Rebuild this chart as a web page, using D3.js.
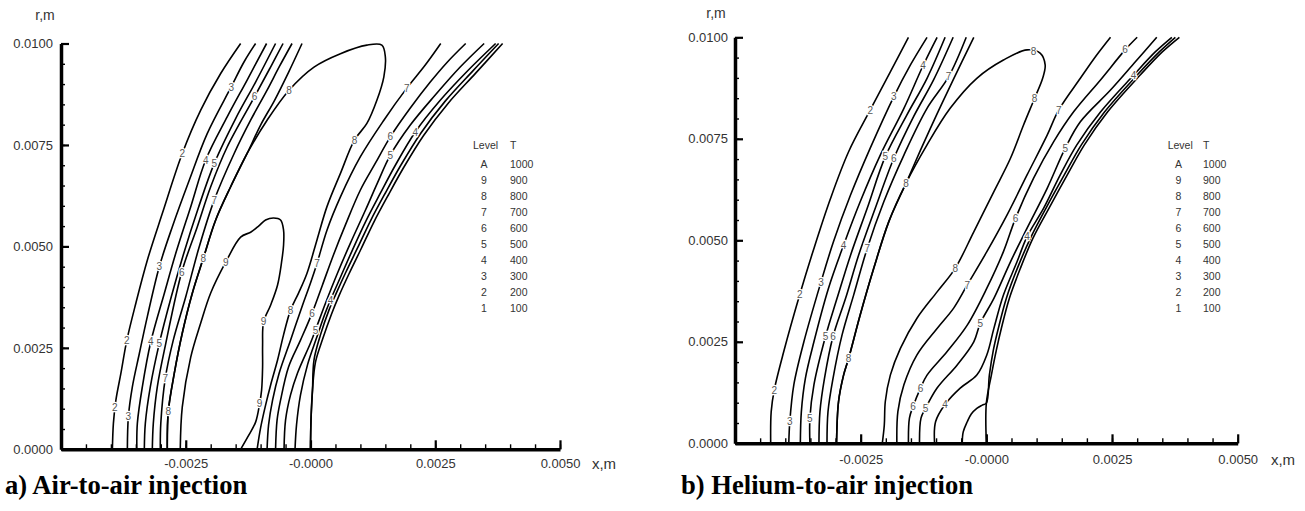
<!DOCTYPE html>
<html><head><meta charset="utf-8">
<script src="https://cdn.jsdelivr.net/npm/d3@7"></script>
<style>body{margin:0;background:#fff}svg{display:block}</style>
</head><body>
<svg id="c" width="1305" height="511"></svg>
<script>
// ---- legend ----
const levelNames = ["A","9","8","7","6","5","4","3","2","1"];
const levelT = [1000,900,800,700,600,500,400,300,200,100];
// ---- axis ticks (metres) ----
const xMajorTicks = [-0.0025, 0, 0.0025, 0.005];
const xTickLabels = ["-0.0025","-0.0000","0.0025","0.0050"];
const yMajorTicks = [0, 0.0025, 0.005, 0.0075, 0.01];
const yTickLabels = ["0.0000","0.0025","0.0050","0.0075","0.0100"];

// ---- contour lines, points [x mm, r mm] ----
// a) Air-to-air
const air_2 = [[-3.97,0],[-3.95,0.64],[-3.90,1.21],[-3.80,1.87],[-3.68,2.69],[-3.50,3.60],[-3.27,4.66],[-2.97,5.81],[-2.57,7.29],[-2.20,8.36],[-1.80,9.26],[-1.40,10.0]];
const air_3 = [[-3.67,0],[-3.65,0.80],[-3.57,1.54],[-3.43,2.36],[-3.27,3.27],[-3.03,4.50],[-2.77,5.48],[-2.43,6.63],[-2.07,7.78],[-1.59,8.93],[-1.33,9.55],[-1.10,10.0]];
const air_4 = [[-3.48,0],[-3.47,0.64],[-3.37,1.54],[-3.20,2.65],[-2.93,3.84],[-2.70,4.83],[-2.40,5.98],[-2.10,7.13],[-1.67,8.19],[-1.27,9.10],[-0.88,10.0]];
const air_5 = [[-3.33,0],[-3.31,0.64],[-3.21,1.54],[-3.03,2.61],[-2.79,3.76],[-2.55,4.79],[-2.25,5.94],[-1.93,7.04],[-1.50,8.15],[-1.10,9.05],[-0.70,10.0]];
const air_6 = [[-3.17,0],[-3.15,0.64],[-3.07,1.54],[-2.90,2.61],[-2.58,4.37],[-2.27,5.48],[-2.00,6.47],[-1.67,7.45],[-1.12,8.69],[-0.80,9.42],[-0.55,10.0]];
const air_7 = [[-3.01,0],[-3.00,0.64],[-2.91,1.75],[-2.75,2.69],[-2.50,3.76],[-2.23,4.99],[-1.93,6.14],[-1.53,7.29],[-1.20,8.11],[-0.87,8.85],[-0.62,9.44],[-0.37,10.0]];
const air_8 = [[-2.87,0],[-2.85,0.93],[-2.73,1.87],[-2.57,2.86],[-2.37,3.84],[-2.15,4.70],[-1.90,5.65],[-1.60,6.47],[-1.27,7.29],[-0.87,8.11],[-0.43,8.85],[0.07,9.42],[0.60,9.75],[1.13,9.96],[1.43,9.96],[1.50,9.67],[1.47,9.18],[1.33,8.60],[1.13,8.03],[0.88,7.62],[0.60,6.80],[0.33,5.98],[0.13,5.16],[-0.07,4.34],[-0.24,3.85],[-0.40,3.43],[-0.54,2.82],[-0.66,2.20],[-0.80,1.58],[-0.90,1.09],[-1.00,0.53],[-1.07,0]];
const air_8b = [[-2.87,0],[-2.85,0.93],[-2.73,1.87],[-2.57,2.86],[-2.37,3.84],[-2.15,4.70],[-1.90,5.65],[-1.60,6.47],[-1.27,7.29],[-1.00,7.99],[-0.72,8.60],[-0.44,9.29],[-0.17,10.0]];
const air_9 = [[-2.61,0],[-2.57,1.04],[-2.40,2.27],[-2.20,3.11],[-2.00,3.85],[-1.70,4.61],[-1.40,5.23],[-1.20,5.35],[-1.04,5.50],[-0.90,5.65],[-0.74,5.70],[-0.60,5.65],[-0.54,5.40],[-0.54,5.03],[-0.58,4.61],[-0.66,4.05],[-0.80,3.55],[-0.94,3.14],[-0.96,2.57],[-0.96,2.03],[-0.98,1.46],[-1.02,1.12],[-1.10,0.67],[-1.26,0.30],[-1.40,0]];
const air_7r = [[-0.87,0],[-0.84,0.60],[-0.76,1.21],[-0.63,1.87],[-0.40,2.69],[-0.16,3.55],[0.00,4.10],[0.13,4.58],[0.33,5.40],[0.60,6.22],[1.00,7.21],[1.47,8.11],[1.93,8.90],[2.30,9.47],[2.61,10.0]];
const air_6r = [[-0.70,0],[-0.67,0.72],[-0.60,1.21],[-0.44,2.03],[-0.20,2.69],[0.03,3.35],[0.24,4.05],[0.46,4.79],[0.70,5.53],[1.00,6.39],[1.30,7.05],[1.60,7.70],[2.00,8.41],[2.40,9.05],[2.74,9.54],[3.11,10.0]];
const air_5r = [[-0.53,0],[-0.50,0.72],[-0.40,1.34],[-0.26,1.88],[0.00,2.62],[0.10,2.94],[0.30,3.60],[0.54,4.34],[0.80,5.08],[1.10,5.89],[1.34,6.56],[1.60,7.25],[2.00,7.99],[2.50,8.73],[3.00,9.42],[3.48,10.0]];
const air_4r = [[-0.31,0],[-0.28,0.60],[-0.20,1.34],[-0.06,2.08],[0.12,2.74],[0.28,3.31],[0.40,3.68],[0.60,4.24],[0.84,4.91],[1.10,5.60],[1.40,6.31],[1.70,7.00],[2.10,7.82],[2.60,8.60],[3.16,9.34],[3.71,10.0]];
const air_3r = [[0.00,0],[0.01,0.72],[0.04,1.46],[0.07,2.20],[0.20,2.82],[0.37,3.43],[0.51,3.83],[0.71,4.37],[0.95,4.98],[1.21,5.65],[1.51,6.34],[1.81,7.00],[2.21,7.79],[2.70,8.58],[3.25,9.32],[3.77,10.0]];
const air_2r = [[0.00,0],[0.01,0.72],[0.04,1.46],[0.10,2.15],[0.25,2.74],[0.42,3.33],[0.57,3.78],[0.77,4.32],[1.01,4.93],[1.27,5.60],[1.57,6.29],[1.87,6.95],[2.27,7.74],[2.76,8.53],[3.31,9.27],[3.85,10.0]];
const airLabels = [
 [-3.92,1.04,"2"],[-3.68,2.69,"2"],[-2.57,7.29,"2"],
 [-3.65,0.80,"3"],[-3.03,4.50,"3"],[-1.59,8.93,"3"],
 [-3.20,2.65,"4"],[-2.10,7.13,"4"],
 [-3.03,2.61,"5"],[-1.93,7.04,"5"],
 [-2.58,4.37,"6"],[-1.12,8.69,"6"],
 [-2.91,1.75,"7"],[-1.93,6.14,"7"],
 [-2.85,0.93,"8"],[-2.15,4.70,"8"],[-0.43,8.85,"8"],[0.88,7.62,"8"],[-0.40,3.43,"8"],
 [-1.70,4.61,"9"],[-0.94,3.14,"9"],[-1.02,1.12,"9"],
 [0.13,4.58,"7"],[1.93,8.90,"7"],
 [0.03,3.35,"6"],[1.60,7.70,"6"],
 [0.10,2.94,"5"],[1.60,7.25,"5"],
 [0.40,3.68,"4"],[2.10,7.82,"4"]
];

// b) Helium-to-air
const he_2 = [[-4.29,0],[-4.28,0.78],[-4.22,1.31],[-4.03,2.26],[-3.71,3.67],[-3.43,4.80],[-3.10,6.03],[-2.74,7.18],[-2.31,8.21],[-1.91,9.15],[-1.55,10.0]];
const he_3 = [[-3.93,0],[-3.91,0.53],[-3.83,1.44],[-3.63,2.50],[-3.29,3.97],[-3.04,4.97],[-2.70,6.12],[-2.31,7.27],[-1.84,8.54],[-1.51,9.32],[-1.18,10.0]];
const he_4 = [[-3.70,0],[-3.68,0.78],[-3.60,1.60],[-3.43,2.50],[-3.14,3.82],[-2.84,4.88],[-2.51,5.95],[-2.11,7.10],[-1.64,8.25],[-1.26,9.30],[-0.98,10.0]];
const he_5 = [[-3.51,0],[-3.51,0.62],[-3.43,1.44],[-3.20,2.63],[-2.97,3.57],[-2.70,4.64],[-2.37,5.79],[-2.01,7.06],[-1.58,8.09],[-1.18,8.99],[-0.82,10.0]];
const he_6 = [[-3.33,0],[-3.31,0.78],[-3.22,1.60],[-3.05,2.63],[-2.80,3.57],[-2.54,4.64],[-2.21,5.79],[-1.84,7.02],[-1.45,8.04],[-1.05,8.95],[-0.66,10.0]];
const he_7 = [[-3.17,0],[-3.15,0.78],[-3.05,1.60],[-2.87,2.67],[-2.64,3.65],[-2.37,4.80],[-2.04,5.95],[-1.64,7.10],[-1.18,8.25],[-0.75,9.03],[-0.40,10.0]];
const he_8 = [[-2.98,0],[-2.94,1.03],[-2.84,1.68],[-2.74,2.09],[-2.51,3.16],[-2.24,4.31],[-1.94,5.46],[-1.60,6.40],[-1.18,7.35],[-0.72,8.25],[-0.19,8.99],[0.34,9.44],[0.81,9.69],[1.07,9.61],[1.17,9.32],[1.12,8.99],[0.96,8.50],[0.74,7.84],[0.48,7.02],[0.15,6.20],[-0.25,5.21],[-0.62,4.31],[-0.98,3.73],[-1.38,3.08],[-1.71,2.34],[-1.91,1.68],[-2.01,1.03],[-2.03,0.45],[-2.07,0]];
const he_8b = [[-2.98,0],[-2.94,1.03],[-2.84,1.68],[-2.74,2.09],[-2.51,3.16],[-2.24,4.31],[-1.94,5.46],[-1.60,6.40],[-1.31,7.22],[-0.99,8.09],[-0.66,8.95],[-0.25,10.0]];
const he_7r = [[-1.78,0],[-1.76,0.78],[-1.64,1.44],[-1.38,2.18],[-0.98,2.83],[-0.65,3.33],[-0.38,3.90],[0.01,4.72],[0.41,5.62],[0.81,6.61],[1.21,7.59],[1.44,8.21],[1.87,8.99],[2.17,9.52],[2.47,10.0]];
const he_6r = [[-1.55,0],[-1.53,0.62],[-1.46,0.90],[-1.31,1.36],[-1.18,1.68],[-0.78,2.26],[-0.38,2.91],[0.01,3.82],[0.34,4.72],[0.58,5.54],[0.94,6.53],[1.34,7.43],[1.74,8.17],[2.27,8.95],[2.76,9.69],[3.00,10.0]];
const he_5r = [[-1.33,0],[-1.30,0.62],[-1.21,0.86],[-0.98,1.36],[-0.58,1.93],[-0.25,2.50],[-0.12,2.96],[0.15,3.57],[0.48,4.47],[0.81,5.30],[1.21,6.28],[1.57,7.27],[1.87,7.92],[2.47,8.70],[2.96,9.39],[3.39,10.0]];
const he_4r = [[-1.03,0],[-1.01,0.53],[-0.82,0.96],[-0.52,1.36],[-0.19,1.68],[0.01,2.18],[0.15,2.83],[0.34,3.65],[0.61,4.47],[0.81,5.09],[1.14,5.79],[1.47,6.61],[1.80,7.35],[2.27,8.16],[2.93,9.07],[3.36,9.64],[3.69,10.0]];
const he_3r = [[-0.48,0],[-0.46,0.28],[-0.38,0.53],[-0.30,0.72],[-0.19,0.86],[-0.08,0.94],[0.00,0.99],[0.06,1.68],[0.14,2.30],[0.24,2.84],[0.40,3.58],[0.62,4.32],[0.88,5.06],[1.19,5.80],[1.55,6.61],[1.89,7.35],[2.35,8.16],[3.00,9.07],[3.44,9.64],[3.76,10.0]];
const he_2r = [[0.00,0],[0.00,0.99],[0.10,1.68],[0.20,2.30],[0.30,2.84],[0.46,3.58],[0.68,4.32],[0.93,5.06],[1.25,5.80],[1.61,6.61],[1.95,7.35],[2.41,8.16],[3.06,9.07],[3.50,9.64],[3.84,10.0]];
const heLabels = [
 [-4.22,1.31,"2"],[-3.71,3.67,"2"],[-2.31,8.21,"2"],
 [-3.91,0.53,"3"],[-3.29,3.97,"3"],[-1.84,8.54,"3"],
 [-2.84,4.88,"4"],[-1.26,9.30,"4"],
 [-3.51,0.62,"5"],[-3.20,2.63,"5"],[-2.01,7.06,"5"],
 [-3.05,2.63,"6"],[-1.84,7.02,"6"],
 [-2.37,4.80,"7"],[-0.75,9.03,"7"],
 [-2.74,2.09,"8"],[-1.60,6.40,"8"],[0.94,9.65,"8"],[0.96,8.50,"8"],[-0.62,4.31,"8"],
 [-0.38,3.90,"7"],[1.44,8.21,"7"],
 [0.58,5.54,"6"],[2.76,9.69,"6"],[-1.46,0.90,"6"],[-1.31,1.36,"6"],
 [-0.12,2.96,"5"],[1.57,7.27,"5"],[-1.21,0.86,"5"],
 [0.81,5.09,"4"],[2.93,9.07,"4"],[-0.82,0.96,"4"]
];

const svg = d3.select("#c");
const panels = [
 {x0:61, x1:560, yb:449.3, yt:43.5,
  contours:[air_2,air_3,air_4,air_5,air_6,air_7,air_8,air_8b,air_9,air_7r,air_6r,air_5r,air_4r,air_3r,air_2r],
  labels:airLabels, caption:"a) Air-to-air injection", capX:5,
  lvX:473, tX:510, lvCx:484, rm:[45,15], xm:[604,464], xPad:9.5, yPad:8},
 {x0:735, x1:1237.7, yb:443.3, yt:37.3,
  contours:[he_2,he_3,he_4,he_5,he_6,he_7,he_8,he_8b,he_7r,he_6r,he_5r,he_4r,he_3r,he_2r],
  labels:heLabels, caption:"b) Helium-to-air injection", capX:681,
  lvX:1167.7, tX:1203, lvCx:1178.5, rm:[716,13], xm:[1283,459.5], xPad:11.5, yPad:7}
];
const FONT = "'Liberation Sans', Arial, sans-serif";

panels.forEach(p => {
  const g = svg.append("g");
  const x = d3.scaleLinear().domain([-0.005, 0.005]).range([p.x0, p.x1]);
  const y = d3.scaleLinear().domain([0, 0.01]).range([p.yb, p.yt]);
  const line = d3.line().x(d => x(d[0] / 1000)).y(d => y(d[1] / 1000)).curve(d3.curveCatmullRom.alpha(0.5));

  g.append("g").selectAll("path").data(p.contours).join("path")
    .attr("d", line).attr("fill", "none").attr("stroke", "#000")
    .attr("stroke-width", 1.6).attr("stroke-linejoin", "round");

  g.append("g").selectAll("text").data(p.labels).join("text")
    .attr("x", d => x(d[0] / 1000)).attr("y", d => y(d[1] / 1000))
    .attr("dy", "0.36em").attr("text-anchor", "middle")
    .attr("font-family", FONT).attr("font-size", 10)
    .attr("fill", "#555").attr("stroke", "#fff").attr("stroke-width", 2.5)
    .attr("paint-order", "stroke").text(d => d[2]);

  const minor = d3.range(21).map(i => -0.005 + i * 0.0005);
  const minorY = d3.range(21).map(i => i * 0.0005);

  // x axis
  const xa = g.append("g").attr("transform", `translate(0,${p.yb})`);
  xa.call(d3.axisBottom(x).tickValues(minor).tickSize(-5).tickFormat(""));
  xa.call(g2 => g2.selectAll(".domain").remove());
  const xb = g.append("g").attr("transform", `translate(0,${p.yb})`)
    .call(d3.axisBottom(x).tickValues(xMajorTicks).tickSize(-9).tickSizeOuter(0)
      .tickPadding(p.xPad).tickFormat((d, i) => xTickLabels[i]));
  xb.select(".domain").attr("stroke-width", 3.5).attr("stroke", "#000");
  xb.selectAll("text").attr("font-family", FONT).attr("font-size", 13).attr("fill", "#333");

  // y axis
  const ya = g.append("g").attr("transform", `translate(${p.x0},0)`);
  ya.call(d3.axisLeft(y).tickValues(minorY).tickSize(-4).tickFormat(""));
  ya.call(g2 => g2.selectAll(".domain").remove());
  const yb = g.append("g").attr("transform", `translate(${p.x0},0)`)
    .call(d3.axisLeft(y).tickValues(yMajorTicks).tickSize(-8).tickSizeOuter(0)
      .tickPadding(p.yPad).tickFormat((d, i) => yTickLabels[i]));
  yb.select(".domain").attr("stroke-width", 3.5).attr("stroke", "#000");
  yb.selectAll("text").attr("font-family", FONT).attr("font-size", 13).attr("fill", "#333");
  g.selectAll(".tick line").attr("stroke", "#000").attr("stroke-width", 1.4);
  yb.selectAll(".tick line").attr("stroke-width", 2.2);
  xb.selectAll(".tick line").attr("stroke-width", 2.2);

  // axis titles
  g.append("text").attr("x", p.rm[0]).attr("y", p.rm[1]).attr("dy", "0.36em")
    .attr("text-anchor", "middle").attr("font-family", FONT).attr("font-size", 14)
    .attr("fill", "#333").text("r,m");
  g.append("text").attr("x", p.xm[0]).attr("y", p.xm[1]).attr("dy", "0.36em")
    .attr("text-anchor", "middle").attr("font-family", FONT).attr("font-size", 15)
    .attr("fill", "#333").text("x,m");

  // legend
  const lg = g.append("g").attr("font-family", FONT).attr("font-size", 10.5).attr("fill", "#333");
  lg.append("text").attr("x", p.lvX).attr("y", 145).attr("dy", "0.36em").text("Level");
  lg.append("text").attr("x", p.tX).attr("y", 145).attr("dy", "0.36em").text("T");
  lg.selectAll(".lv").data(levelNames).join("text").attr("class", "lv")
    .attr("x", p.lvCx).attr("y", (d, i) => 164.5 + i * 16).attr("dy", "0.36em")
    .attr("text-anchor", "middle").text(d => d);
  lg.selectAll(".lt").data(levelT).join("text").attr("class", "lt")
    .attr("x", p.tX).attr("y", (d, i) => 164.5 + i * 16).attr("dy", "0.36em")
    .text(d => d);

  // caption
  g.append("text").attr("x", p.capX).attr("y", 494)
    .attr("font-family", "'Liberation Serif', 'Times New Roman', serif")
    .attr("font-weight", "bold").attr("font-size", 26.6).attr("fill", "#000")
    .text(p.caption);
});
</script>
</body></html>
